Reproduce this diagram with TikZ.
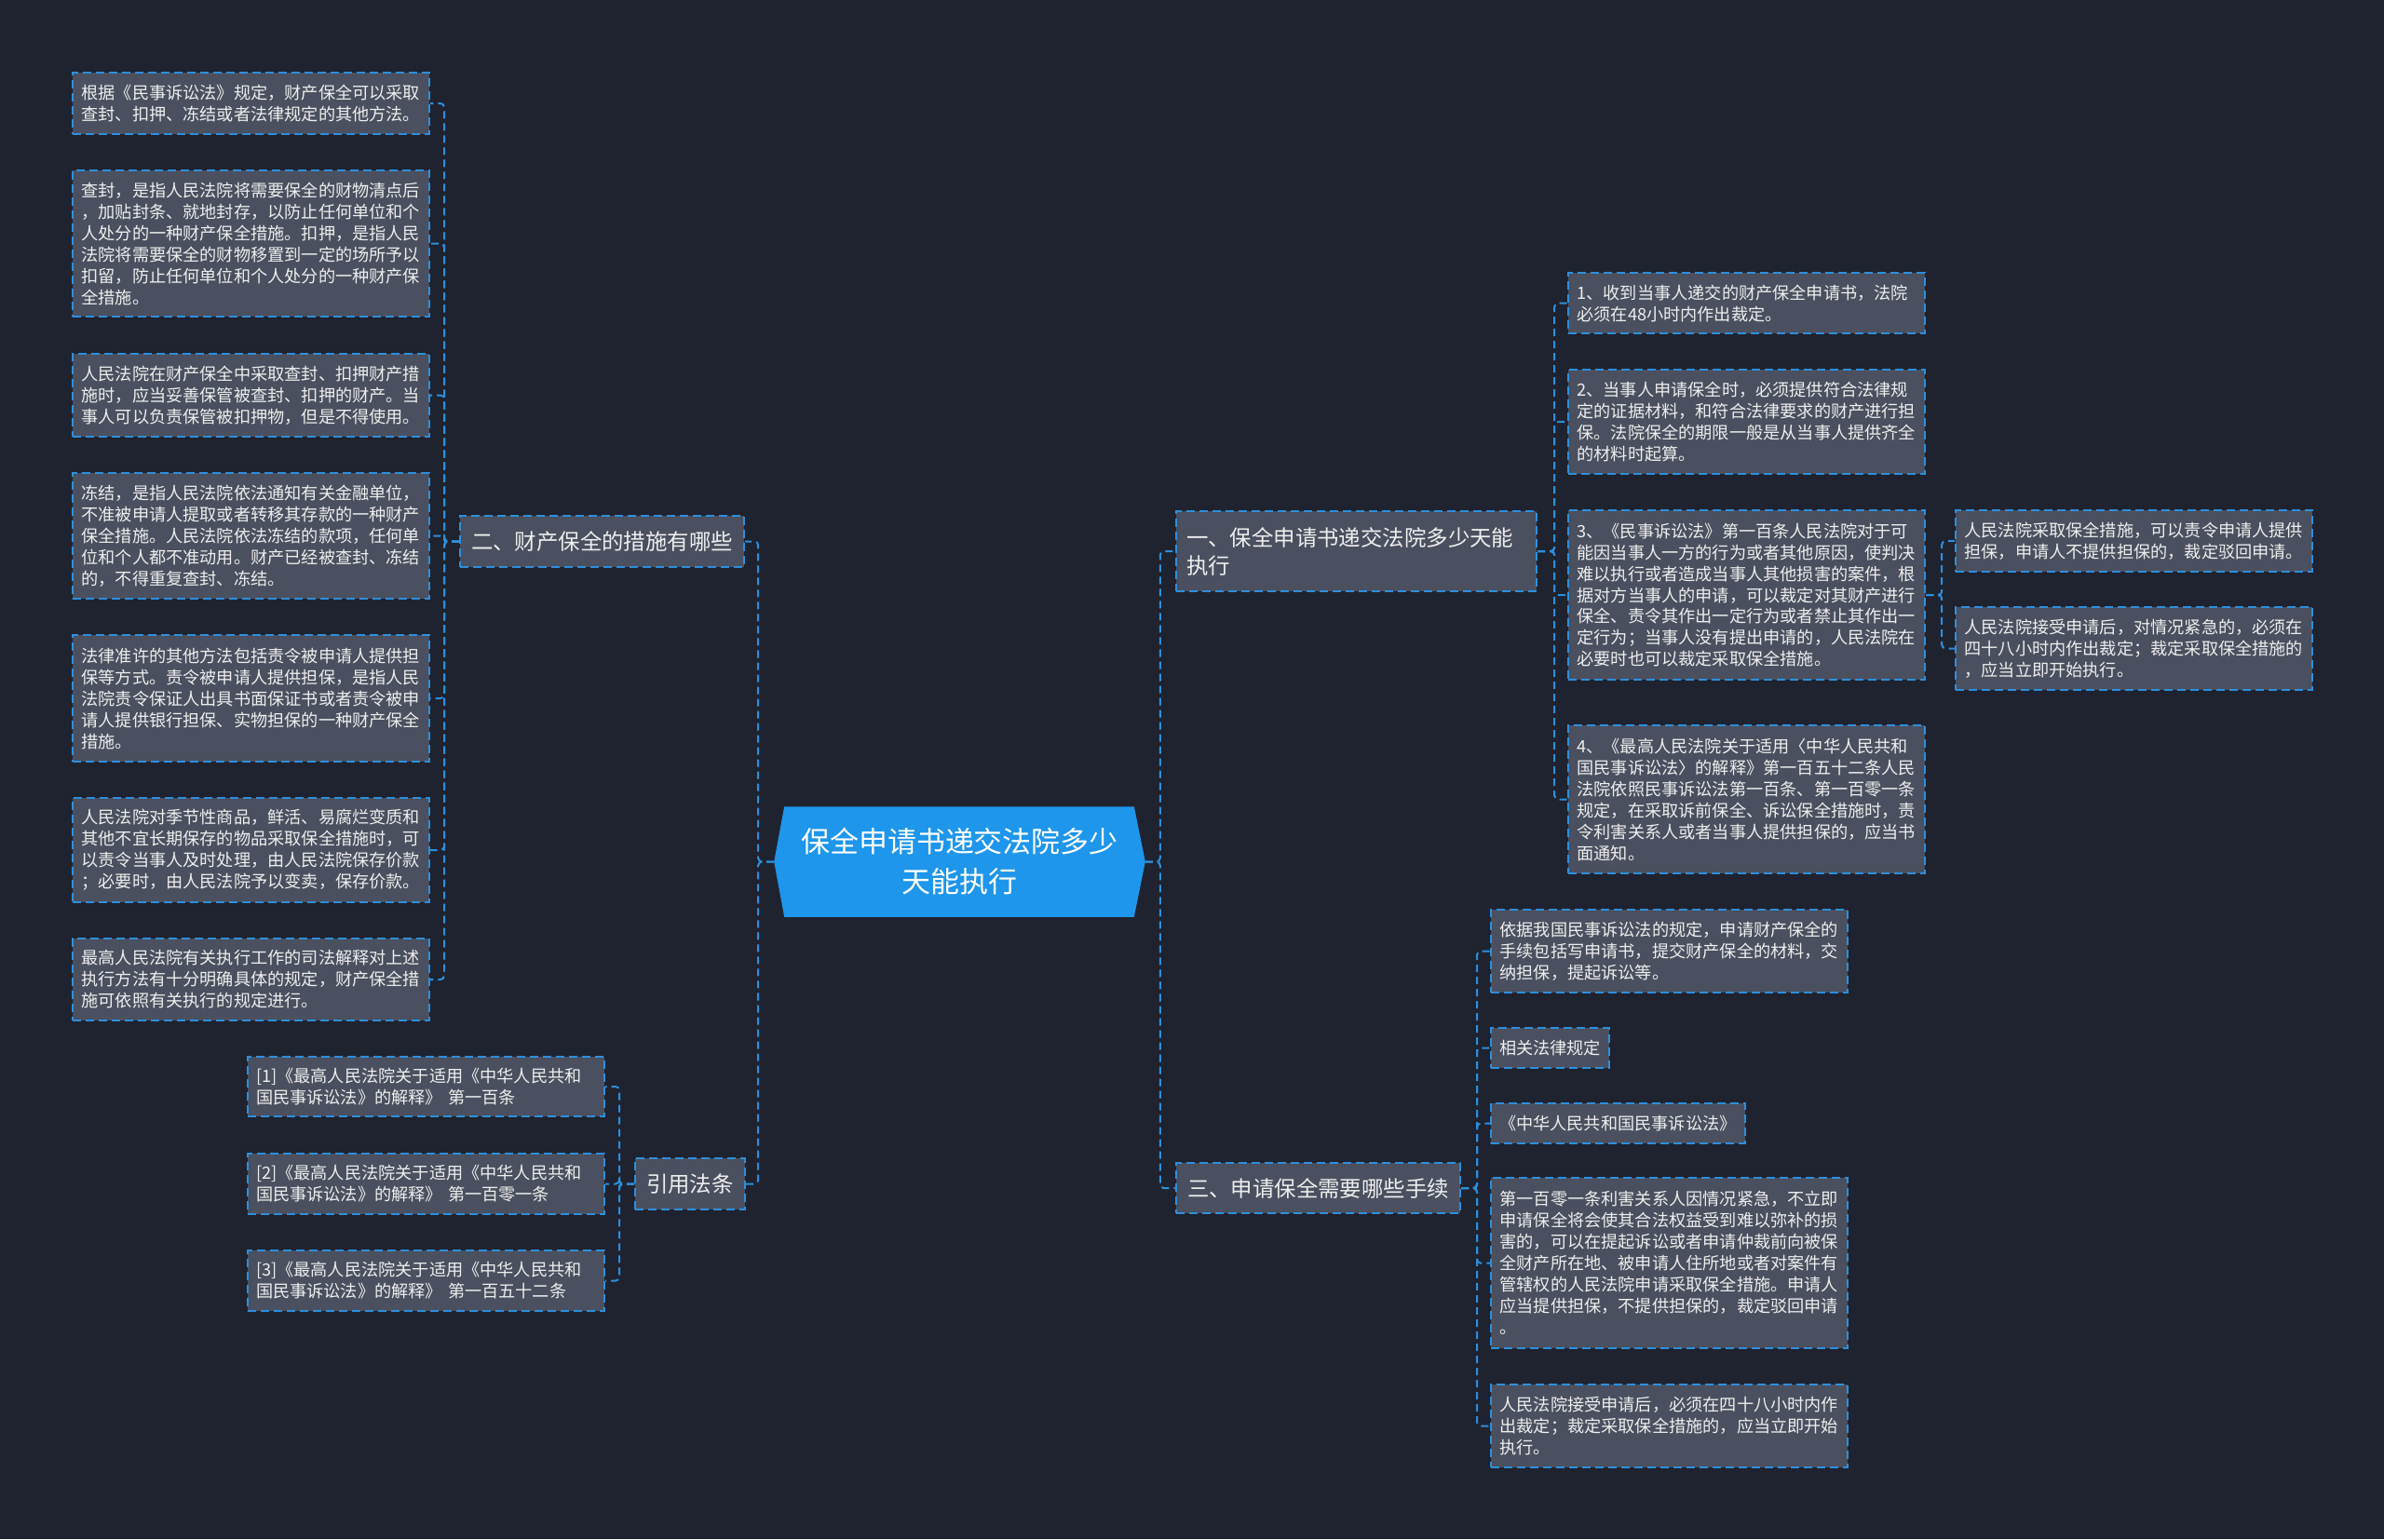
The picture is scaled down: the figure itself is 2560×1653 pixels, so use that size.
\documentclass[tikz,border=0pt]{standalone}
\usepackage{fontspec}
\setmainfont{Noto Sans CJK SC}
\usetikzlibrary{backgrounds}

\definecolor{bgnavy}{HTML}{1F2330}
\definecolor{boxgray}{HTML}{4A505F}
\definecolor{linkblue}{HTML}{2D8FDC}
\definecolor{rootblue}{HTML}{1E96EB}
\definecolor{textwhite}{HTML}{EEEEEE}

\newcommand{\leaffont}{\fontsize{5.17pt}{6.54pt}\selectfont}
\newcommand{\topicfont}{\fontsize{6.66pt}{8.54pt}\selectfont}
\newcommand{\rootfont}{\fontsize{8.8pt}{12.2pt}\selectfont}

\tikzset{
    box/.style={draw=linkblue, dash pattern=on 0.09cm off 0.05cm, line width=0.02cm,
        fill=boxgray, text=textwhite, align=left, inner ysep=0cm, anchor=north west},
    leaf/.style={box, font=\leaffont, text width=3.64cm, inner xsep=0.095cm},
    tag/.style={box, font=\leaffont, inner xsep=0.09cm},
    cite/.style={box, font=\leaffont, text width=3.65cm, inner xsep=0.09cm},
    topic/.style={box, font=\topicfont, inner xsep=0.12cm},
    link/.style={draw=linkblue, dash pattern=on 0.08cm off 0.05cm, line width=0.02cm,
        rounded corners=0.04cm}
}

\begin{document}
\begin{tikzpicture}[x=0.01cm, y=-0.01cm]
        \begin{scope}[on background layer]
            \fill[bgnavy] (0,0) rectangle (2560,1653);
        \end{scope}

        % Root
        \node[font=\rootfont, text=white, align=center, minimum width=3.97cm,
            minimum height=1.17cm, text width=3.5cm, inner sep=0pt] (root) at (1030.5,925.5)
            {保全申请书递交法院多少\\天能执行};
        \begin{scope}[on background layer]
            \fill[rootblue] ([xshift=0.11cm]root.north west) -- ([xshift=-0.12cm]root.north east)
                -- (root.east) -- ([xshift=-0.12cm]root.south east)
                -- ([xshift=0.11cm]root.south west) -- (root.west) -- cycle;
        \end{scope}

        % Left: measures
        \node[topic, minimum height=0.55cm] (two) at (493,553) {二、财产保全的措施有哪些};
        \node[leaf, minimum height=0.66cm] (l1) at (77,77)
            {根据《民事诉讼法》规定，财产保全可以采取\\查封、扣押、冻结或者法律规定的其他方法。};
        \node[leaf, minimum height=1.57cm] (l2) at (77,182)
            {查封，是指人民法院将需要保全的财物清点后\\，加贴封条、就地封存，以防止任何单位和个\\人处分的一种财产保全措施。扣押，是指人民\\法院将需要保全的财物移置到一定的场所予以\\扣留，防止任何单位和个人处分的一种财产保\\全措施。};
        \node[leaf, minimum height=0.89cm] (l3) at (77,379)
            {人民法院在财产保全中采取查封、扣押财产措\\施时，应当妥善保管被查封、扣押的财产。当\\事人可以负责保管被扣押物，但是不得使用。};
        \node[leaf, minimum height=1.35cm] (l4) at (77,507)
            {冻结，是指人民法院依法通知有关金融单位，\\不准被申请人提取或者转移其存款的一种财产\\保全措施。人民法院依法冻结的款项，任何单\\位和个人都不准动用。财产已经被查封、冻结\\的，不得重复查封、冻结。};
        \node[leaf, minimum height=1.36cm] (l5) at (77,681)
            {法律准许的其他方法包括责令被申请人提供担\\保等方式。责令被申请人提供担保，是指人民\\法院责令保证人出具书面保证书或者责令被申\\请人提供银行担保、实物担保的一种财产保全\\措施。};
        \node[leaf, minimum height=1.12cm] (l6) at (77,856)
            {人民法院对季节性商品，鲜活、易腐烂变质和\\其他不宜长期保存的物品采取保全措施时，可\\以责令当事人及时处理，由人民法院保存价款\\；必要时，由人民法院予以变卖，保存价款。};
        \node[leaf, minimum height=0.88cm] (l7) at (77,1007)
            {最高人民法院有关执行工作的司法解释对上述\\执行方法有十分明确具体的规定，财产保全措\\施可依照有关执行的规定进行。};
        \foreach \n in {l1,l2,l3,l4,l5,l6,l7}
            \draw[link] (two.west) -- ++(-16,0) |- (\n.east);

        % Left: citations
        \node[topic, minimum height=0.55cm] (law) at (681,1243) {引用法条};
        \node[cite, minimum height=0.64cm] (c1) at (265,1134)
            {[1]《最高人民法院关于适用《中华人民共和\\国民事诉讼法》的解释》 第一百条};
        \node[cite, minimum height=0.65cm] (c2) at (265,1238)
            {[2]《最高人民法院关于适用《中华人民共和\\国民事诉讼法》的解释》 第一百零一条};
        \node[cite, minimum height=0.65cm] (c3) at (265,1342)
            {[3]《最高人民法院关于适用《中华人民共和\\国民事诉讼法》的解释》 第一百五十二条};
        \foreach \n in {c1,c2,c3}
            \draw[link] (law.west) -- ++(-16,0) |- (\n.east);

        \draw[link] (root.west) -- ++(-17,0) |- (two.east);
        \draw[link] (root.west) -- ++(-17,0) |- (law.east);

        % Right: how many days
        \node[topic, text width=3.65cm, inner xsep=0.11cm, minimum height=0.86cm] (one) at (1262,548)
            {一、保全申请书递交法院多少天能\\执行};
        \node[leaf, minimum height=0.65cm] (r1) at (1683,292)
            {1、收到当事人递交的财产保全申请书，法院\\必须在48小时内作出裁定。};
        \node[leaf, minimum height=1.12cm] (r2) at (1683,396)
            {2、当事人申请保全时，必须提供符合法律规\\定的证据材料，和符合法律要求的财产进行担\\保。法院保全的期限一般是从当事人提供齐全\\的材料时起算。};
        \node[leaf, minimum height=1.82cm] (r3) at (1683,547)
            {3、《民事诉讼法》第一百条人民法院对于可\\能因当事人一方的行为或者其他原因，使判决\\难以执行或者造成当事人其他损害的案件，根\\据对方当事人的申请，可以裁定对其财产进行\\保全、责令其作出一定行为或者禁止其作出一\\定行为；当事人没有提出申请的，人民法院在\\必要时也可以裁定采取保全措施。};
        \node[leaf, minimum height=1.59cm] (r4) at (1683,778)
            {4、《最高人民法院关于适用〈中华人民共和\\国民事诉讼法〉的解释》第一百五十二条人民\\法院依照民事诉讼法第一百条、第一百零一条\\规定，在采取诉前保全、诉讼保全措施时，责\\令利害关系人或者当事人提供担保的，应当书\\面通知。};
        \foreach \n in {r1,r2,r3,r4}
            \draw[link] (one.east) -- ++(18,0) |- (\n.west);

        \node[leaf, minimum height=0.66cm] (s1) at (2099,547)
            {人民法院采取保全措施，可以责令申请人提供\\担保，申请人不提供担保的，裁定驳回申请。};
        \node[leaf, minimum height=0.89cm] (s2) at (2099,651)
            {人民法院接受申请后，对情况紧急的，必须在\\四十八小时内作出裁定；裁定采取保全措施的\\，应当立即开始执行。};
        \foreach \n in {s1,s2}
            \draw[link] (r3.east) -- ++(17,0) |- (\n.west);

        % Right: procedures
        \node[topic, minimum height=0.54cm] (three) at (1262,1248) {三、申请保全需要哪些手续};
        \node[leaf, minimum height=0.89cm] (t1) at (1600,976)
            {依据我国民事诉讼法的规定，申请财产保全的\\手续包括写申请书，提交财产保全的材料，交\\纳担保，提起诉讼等。};
        \node[tag, minimum height=0.43cm] (t2) at (1600,1103) {相关法律规定};
        \node[tag, minimum height=0.43cm] (t3) at (1600,1184) {《中华人民共和国民事诉讼法》};
        \node[leaf, minimum height=1.83cm] (t4) at (1600,1264)
            {第一百零一条利害关系人因情况紧急，不立即\\申请保全将会使其合法权益受到难以弥补的损\\害的，可以在提起诉讼或者申请仲裁前向被保\\全财产所在地、被申请人住所地或者对案件有\\管辖权的人民法院申请采取保全措施。申请人\\应当提供担保，不提供担保的，裁定驳回申请\\。};
        \node[leaf, minimum height=0.89cm] (t5) at (1600,1486)
            {人民法院接受申请后，必须在四十八小时内作\\出裁定；裁定采取保全措施的，应当立即开始\\执行。};
        \foreach \n in {t1,t2,t3,t4,t5}
            \draw[link] (three.east) -- ++(17,0) |- (\n.west);

        \draw[link] (root.east) -- ++(16,0) |- (one.west);
        \draw[link] (root.east) -- ++(16,0) |- (three.west);
    \end{tikzpicture}
\end{document}
